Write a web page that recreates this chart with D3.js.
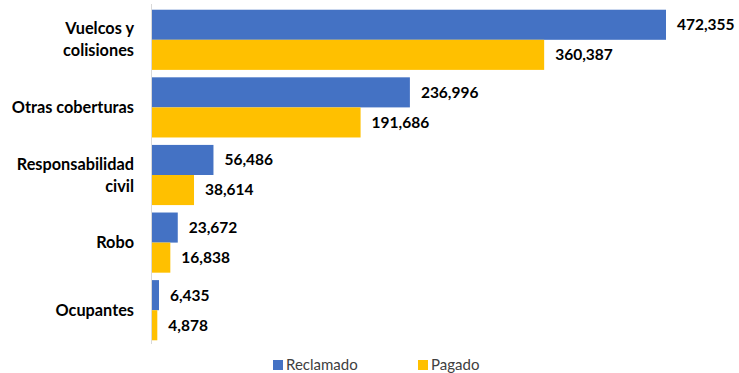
<!DOCTYPE html>
<head>
  <meta charset="utf-8">
  <script src="https://d3js.org/d3.v7.min.js"></script>
  <style>
    body { margin:0; background:#fff; }
    text { font-family: Lato, "Open Sans", sans-serif; }
  </style>
</head>
<body>
<script>
var categorias = [["Vuelcos y", "colisiones"], ["Otras coberturas"], ["Responsabilidad", "civil"], ["Robo"], ["Ocupantes"]];
var reclamado = [472355, 236996, 56486, 23672, 6435];
var pagado = [360387, 191686, 38614, 16838, 4878];
var series = ["Reclamado", "Pagado"];
var colores = ["#4472C4", "#FFC000"];

var width = 739, height = 373;

var svg = d3.select("body").append("svg")
    .attr("width", width)
    .attr("height", height);

var keys = categorias.map(function(d, i) { return i; });

var y = d3.scaleBand().domain(keys).range([6, 344]).paddingInner(0.11).paddingOuter(0.055);
var ySub = d3.scaleBand().domain(series).range([0, y.bandwidth()]);
var x = d3.scaleLinear().domain([0, 472355]).range([152, 666]);

// axis line
svg.append("line")
    .attr("x1", 151.5).attr("x2", 151.5)
    .attr("y1", 4).attr("y2", 344)
    .attr("stroke", "#d9d9d9").attr("stroke-width", 1);

var grupos = svg.selectAll("g.grupo")
    .data(keys)
    .enter().append("g")
    .attr("class", "grupo")
    .attr("transform", function(i) { return "translate(0," + y(i) + ")"; });

grupos.each(function(i) {
  var g = d3.select(this);
  var vals = [reclamado[i], pagado[i]];
  vals.forEach(function(v, s) {
    g.append("rect")
      .attr("x", x(0))
      .attr("y", ySub(series[s]))
      .attr("width", x(v) - x(0))
      .attr("height", ySub.bandwidth())
      .attr("fill", colores[s]);
    g.append("text")
      .attr("x", x(v) + 11)
      .attr("y", ySub(series[s]) + ySub.bandwidth() / 2)
      .attr("dy", "0.35em")
      .attr("font-size", 15.5)
      .attr("font-weight", "bold")
      .attr("fill", "#000")
      .text(d3.format(",")(v));
  });

  var lines = categorias[i];
  var t = g.append("text")
    .attr("text-anchor", "end")
    .attr("font-size", 16.3)
    .attr("font-weight", "bold")
    .attr("fill", "#000");
  lines.forEach(function(l, k) {
    t.append("tspan")
      .attr("x", 134)
      .attr("y", y.bandwidth() / 2 + (k - (lines.length - 1) / 2) * 22)
      .attr("dy", "0.35em")
      .text(l);
  });
});

// legend
var leg = svg.append("g");
var legX = [273, 418];
series.forEach(function(s, k) {
  leg.append("rect")
    .attr("x", legX[k]).attr("y", 360)
    .attr("width", 10).attr("height", 10)
    .attr("fill", colores[k]);
  leg.append("text")
    .attr("x", legX[k] + 13).attr("y", 365)
    .attr("dy", "0.35em")
    .attr("font-size", 15)
    .attr("fill", "#404040")
    .text(s);
});
</script>
</body>
